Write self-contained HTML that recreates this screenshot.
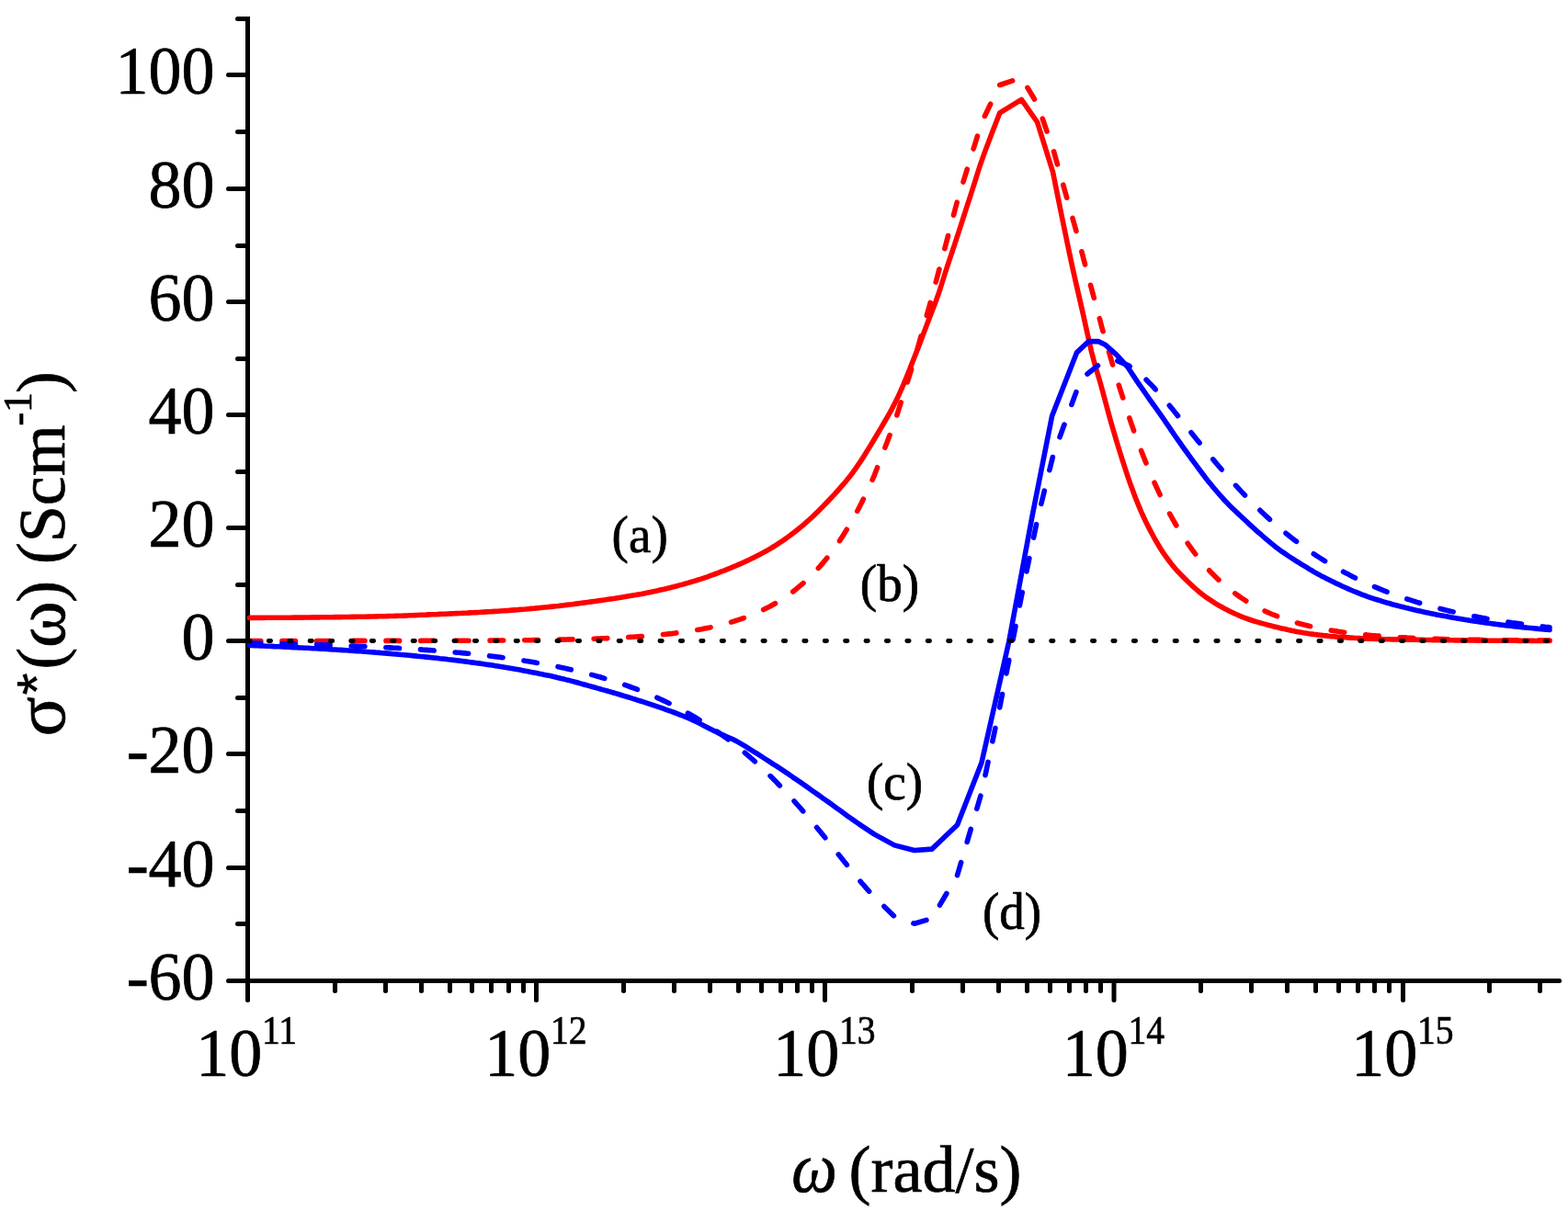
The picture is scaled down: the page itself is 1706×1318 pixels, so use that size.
<!DOCTYPE html>
<html lang="en">
<head>
<meta charset="utf-8">
<title>Complex conductivity versus angular frequency</title>
<style>
html,body{margin:0;padding:0;background:#fff;}
body{width:1706px;height:1318px;overflow:hidden;}
svg{display:block;}
</style>
</head>
<body>
<svg width="1706" height="1318" viewBox="0 0 1706 1318">
<rect width="1706" height="1318" fill="#fff"/>
<g stroke="#000" stroke-width="5" stroke-linecap="round" fill="none">
<path stroke-linejoin="miter" d="M258.5 20.5H269.5V1067.5H1696.6"/>
<path d="M248.5 1067.5H269.5"/>
<path d="M248.5 944.5H269.5"/>
<path d="M248.5 820.5H269.5"/>
<path d="M248.5 697.5H269.5"/>
<path d="M248.5 574.5H269.5"/>
<path d="M248.5 451.5H269.5"/>
<path d="M248.5 328.5H269.5"/>
<path d="M248.5 205.5H269.5"/>
<path d="M248.5 81.5H269.5"/>
<path d="M258.5 1005.5H269.5"/>
<path d="M258.5 882.5H269.5"/>
<path d="M258.5 759.5H269.5"/>
<path d="M258.5 636.5H269.5"/>
<path d="M258.5 513.5H269.5"/>
<path d="M258.5 390.5H269.5"/>
<path d="M258.5 267.5H269.5"/>
<path d="M258.5 143.5H269.5"/>
<path d="M269.5 1067.5V1088.5"/>
<path d="M364.5 1067.5V1078.5"/>
<path d="M419.5 1067.5V1078.5"/>
<path d="M458.5 1067.5V1078.5"/>
<path d="M489.5 1067.5V1078.5"/>
<path d="M513.5 1067.5V1078.5"/>
<path d="M534.5 1067.5V1078.5"/>
<path d="M553.5 1067.5V1078.5"/>
<path d="M569.5 1067.5V1078.5"/>
<path d="M583.5 1067.5V1088.5"/>
<path d="M678.5 1067.5V1078.5"/>
<path d="M733.5 1067.5V1078.5"/>
<path d="M772.5 1067.5V1078.5"/>
<path d="M803.5 1067.5V1078.5"/>
<path d="M828.5 1067.5V1078.5"/>
<path d="M849.5 1067.5V1078.5"/>
<path d="M867.5 1067.5V1078.5"/>
<path d="M883.5 1067.5V1078.5"/>
<path d="M897.5 1067.5V1088.5"/>
<path d="M992.5 1067.5V1078.5"/>
<path d="M1047.5 1067.5V1078.5"/>
<path d="M1086.5 1067.5V1078.5"/>
<path d="M1117.5 1067.5V1078.5"/>
<path d="M1142.5 1067.5V1078.5"/>
<path d="M1163.5 1067.5V1078.5"/>
<path d="M1181.5 1067.5V1078.5"/>
<path d="M1197.5 1067.5V1078.5"/>
<path d="M1212.0 1067.5V1088.5"/>
<path d="M1306.5 1067.5V1078.5"/>
<path d="M1361.5 1067.5V1078.5"/>
<path d="M1400.5 1067.5V1078.5"/>
<path d="M1431.5 1067.5V1078.5"/>
<path d="M1456.5 1067.5V1078.5"/>
<path d="M1477.5 1067.5V1078.5"/>
<path d="M1495.5 1067.5V1078.5"/>
<path d="M1511.5 1067.5V1078.5"/>
<path d="M1526.5 1067.5V1088.5"/>
<path d="M1620.5 1067.5V1078.5"/>
<path d="M1675.5 1067.5V1078.5"/>
</g>
<g font-family="Liberation Serif, 'Times New Roman', serif" fill="#000" stroke="#000" stroke-width="0.7" stroke-linejoin="round">
<text transform="translate(233.6 1088.1) scale(0.9782608695652175 1)" font-size="73.6" text-anchor="end" >-60</text>
<text transform="translate(233.6 965.1) scale(0.9782608695652175 1)" font-size="73.6" text-anchor="end" >-40</text>
<text transform="translate(233.6 841.1) scale(0.9782608695652175 1)" font-size="73.6" text-anchor="end" >-20</text>
<text transform="translate(233.6 718.1) scale(0.9782608695652175 1)" font-size="73.6" text-anchor="end" >0</text>
<text transform="translate(233.6 595.1) scale(0.9782608695652175 1)" font-size="73.6" text-anchor="end" >20</text>
<text transform="translate(233.6 472.1) scale(0.9782608695652175 1)" font-size="73.6" text-anchor="end" >40</text>
<text transform="translate(233.6 349.1) scale(0.9782608695652175 1)" font-size="73.6" text-anchor="end" >60</text>
<text transform="translate(233.6 226.1) scale(0.9782608695652175 1)" font-size="73.6" text-anchor="end" >80</text>
<text transform="translate(233.6 102.1) scale(0.9782608695652175 1)" font-size="73.6" text-anchor="end" >100</text>
<text transform="translate(213.2 1171.2) scale(0.9782608695652175 1)" font-size="73.6" text-anchor="start" >10</text>
<text transform="translate(284.95 1136.2) scale(0.9 1)" font-size="44" text-anchor="start" >11</text>
<text transform="translate(527.2 1171.2) scale(0.9782608695652175 1)" font-size="73.6" text-anchor="start" >10</text>
<text transform="translate(598.95 1136.2) scale(0.9 1)" font-size="44" text-anchor="start" >12</text>
<text transform="translate(841.2 1171.2) scale(0.9782608695652175 1)" font-size="73.6" text-anchor="start" >10</text>
<text transform="translate(912.95 1136.2) scale(0.9 1)" font-size="44" text-anchor="start" >13</text>
<text transform="translate(1155.7 1171.2) scale(0.9782608695652175 1)" font-size="73.6" text-anchor="start" >10</text>
<text transform="translate(1227.45 1136.2) scale(0.9 1)" font-size="44" text-anchor="start" >14</text>
<text transform="translate(1470.2 1171.2) scale(0.9782608695652175 1)" font-size="73.6" text-anchor="start" >10</text>
<text transform="translate(1541.95 1136.2) scale(0.9 1)" font-size="44" text-anchor="start" >15</text>
<text transform="translate(861.2 1297.4) scale(0.9 1)" font-size="78" text-anchor="start" font-style="italic" >ω</text>
<text transform="translate(923.6 1297.4)" font-size="72" text-anchor="start" >(rad/s)</text>
<text transform="translate(70.2 801.4) rotate(-90) scale(1.03 1)" font-size="78" text-anchor="start" >σ</text>
<text transform="translate(60.9 756.6) rotate(-90)" font-family="Liberation Sans, Arial, sans-serif" font-size="62" stroke-width="0.4">*</text>
<text transform="translate(67.7 728.6) rotate(-90)" font-size="71" text-anchor="start" >(</text>
<text transform="translate(69.8 704.9) rotate(-90) scale(0.985 1)" font-size="78" text-anchor="start" >ω</text>
<text transform="translate(67.7 655.7) rotate(-90)" font-size="71" text-anchor="start" >)</text>
<text transform="translate(67.7 614.0) rotate(-90)" font-size="71" text-anchor="start" >(</text>
<text transform="translate(69.8 590.3) rotate(-90)" font-size="72" text-anchor="start" >Scm</text>
<text transform="translate(34.3 463.6) rotate(-90)" font-size="44" text-anchor="start" >-1</text>
<text transform="translate(67.7 427.9) rotate(-90)" font-size="71" text-anchor="start" >)</text>
<text transform="translate(665.6 601.2) scale(0.985 1)" font-size="56" text-anchor="start" >(a)</text>
<text transform="translate(935.8 653.8) scale(0.985 1)" font-size="56" text-anchor="start" >(b)</text>
<text transform="translate(942.9 869.8) scale(0.985 1)" font-size="56" text-anchor="start" >(c)</text>
<text transform="translate(1068.9 1010.8) scale(0.985 1)" font-size="56" text-anchor="start" >(d)</text>
</g>
<g fill="none" stroke-width="5.6" stroke-linejoin="round">
<path stroke="#f00" stroke-linecap="round" d="M271.6 672.4 L274.6 672.4 L277.6 672.4 L280.6 672.4 L283.6 672.4 L286.6 672.4 L289.6 672.3 L292.6 672.3 L295.6 672.3 L298.6 672.3 L301.6 672.3 L304.6 672.3 L307.6 672.2 L310.6 672.2 L313.6 672.2 L316.6 672.2 L319.6 672.1 L322.6 672.1 L325.6 672.1 L328.6 672.1 L331.6 672.0 L334.6 672.0 L337.6 672.0 L340.6 671.9 L343.6 671.9 L346.6 671.9 L349.6 671.8 L352.6 671.8 L355.6 671.8 L358.6 671.7 L361.6 671.7 L364.6 671.6 L367.6 671.6 L370.6 671.6 L373.6 671.5 L376.6 671.5 L379.6 671.5 L382.6 671.4 L385.6 671.4 L388.6 671.3 L391.6 671.3 L394.6 671.2 L397.6 671.2 L400.6 671.1 L403.6 671.0 L406.6 671.0 L409.6 670.9 L412.6 670.8 L415.6 670.8 L418.6 670.7 L421.6 670.6 L424.6 670.5 L427.6 670.5 L430.6 670.4 L433.6 670.3 L436.6 670.2 L439.6 670.1 L442.6 670.0 L445.6 669.8 L448.6 669.7 L451.6 669.6 L454.6 669.5 L457.6 669.3 L460.6 669.2 L463.6 669.1 L466.6 668.9 L469.6 668.8 L472.6 668.7 L475.6 668.6 L478.6 668.4 L481.6 668.3 L484.6 668.2 L487.6 668.0 L490.6 667.9 L493.6 667.8 L496.6 667.6 L499.6 667.5 L502.6 667.4 L505.6 667.2 L508.6 667.1 L511.6 666.9 L514.6 666.8 L517.6 666.6 L520.6 666.5 L523.6 666.3 L526.6 666.1 L529.6 665.9 L532.6 665.8 L535.6 665.6 L538.6 665.4 L541.6 665.2 L544.6 665.0 L547.6 664.8 L550.6 664.6 L553.6 664.4 L556.6 664.1 L559.6 663.9 L562.6 663.7 L565.6 663.4 L568.6 663.2 L571.6 663.0 L574.6 662.7 L577.6 662.4 L580.6 662.2 L583.6 661.9 L586.6 661.6 L589.6 661.3 L592.6 661.0 L595.6 660.7 L598.6 660.4 L601.6 660.1 L604.6 659.8 L607.6 659.5 L610.6 659.1 L613.6 658.8 L616.6 658.4 L619.6 658.0 L622.6 657.7 L625.6 657.3 L628.6 656.9 L631.6 656.5 L634.6 656.1 L637.6 655.7 L640.6 655.3 L643.6 654.9 L646.6 654.5 L649.6 654.1 L652.6 653.6 L655.6 653.2 L658.6 652.8 L661.6 652.3 L664.6 651.9 L667.6 651.5 L670.6 651.0 L673.6 650.5 L676.6 650.1 L679.6 649.6 L682.6 649.1 L685.6 648.6 L688.6 648.1 L691.6 647.6 L694.6 647.0 L697.6 646.5 L700.6 645.9 L703.6 645.3 L706.6 644.7 L709.6 644.1 L712.6 643.4 L715.6 642.8 L718.6 642.1 L721.6 641.4 L724.6 640.7 L727.6 640.0 L730.6 639.2 L733.6 638.5 L736.6 637.7 L739.6 636.9 L742.6 636.1 L745.6 635.2 L748.6 634.4 L751.6 633.5 L754.6 632.6 L757.6 631.7 L760.6 630.8 L763.6 629.8 L766.6 628.8 L769.6 627.8 L772.6 626.7 L775.6 625.6 L778.6 624.5 L781.6 623.4 L784.6 622.2 L787.6 621.1 L790.6 619.9 L793.6 618.7 L796.6 617.4 L799.6 616.2 L802.6 614.9 L805.6 613.6 L808.6 612.3 L811.6 610.9 L814.6 609.5 L817.6 608.0 L820.6 606.6 L823.6 605.0 L826.6 603.5 L829.6 601.9 L832.6 600.2 L835.6 598.6 L838.6 596.8 L841.6 595.0 L844.6 593.2 L847.6 591.2 L850.6 589.2 L853.6 587.1 L856.6 585.0 L859.6 582.8 L862.6 580.5 L865.6 578.2 L868.6 575.8 L871.6 573.3 L874.6 570.8 L877.6 568.2 L880.6 565.5 L883.6 562.7 L886.6 559.9 L889.6 557.0 L892.6 554.0 L895.6 550.9 L898.6 547.8 L901.6 544.7 L904.6 541.5 L907.6 538.3 L910.6 535.0 L913.6 531.6 L916.6 528.2 L919.6 524.7 L922.6 521.0 L925.6 517.2 L928.6 513.2 L931.6 509.0 L934.6 504.6 L937.6 500.1 L940.6 495.4 L943.6 490.6 L946.6 485.7 L949.6 480.7 L952.6 475.7 L955.6 470.7 L958.6 465.6 L961.6 460.5 L964.6 455.4 L967.6 450.1 L970.6 444.6 L973.6 438.8 L976.6 432.8 L979.6 426.2 L982.6 419.3 L985.6 412.1 L988.6 404.7 L991.6 397.1 L994.6 389.5 L997.6 381.9 L1000.6 374.2 L1003.6 366.3 L1006.6 358.3 L1009.6 350.3 L1012.6 342.4 L1015.6 334.7 L1018.6 326.9 L1021.6 318.3 L1024.6 309.0 L1027.6 299.5 L1030.6 290.2 L1033.6 281.2 L1036.6 272.2 L1039.6 263.2 L1042.6 254.0 L1045.6 244.7 L1048.6 235.3 L1051.6 226.0 L1054.6 216.8 L1057.6 207.5 L1060.6 198.1 L1063.6 188.5 L1066.6 179.2 L1069.6 170.6 L1072.6 162.4 L1075.6 154.4 L1078.6 146.6 L1081.6 138.8 L1084.6 131.0 L1087.7 122.9 L1111.4 108.4 L1128.6 133.0 L1145.6 187.5 L1148.6 202.5 L1151.6 217.4 L1154.6 232.2 L1157.6 246.9 L1160.6 261.5 L1163.6 275.9 L1166.6 289.9 L1169.6 303.4 L1172.6 316.5 L1175.6 329.5 L1178.6 342.6 L1181.6 356.3 L1184.6 370.0 L1187.6 383.0 L1190.6 394.4 L1193.6 404.7 L1196.6 414.7 L1199.6 425.4 L1202.6 436.7 L1205.6 448.0 L1208.6 458.9 L1211.6 469.3 L1214.6 479.4 L1217.6 489.2 L1220.6 498.8 L1223.6 508.2 L1226.6 517.4 L1229.6 526.1 L1232.6 534.3 L1235.6 542.2 L1238.6 549.6 L1241.6 556.8 L1244.6 563.5 L1247.6 569.8 L1250.6 575.6 L1253.6 581.3 L1256.6 586.8 L1259.6 592.0 L1262.6 597.0 L1265.6 601.6 L1268.6 605.9 L1271.6 610.0 L1274.6 613.9 L1277.6 617.6 L1280.6 621.0 L1283.6 624.2 L1286.6 627.3 L1289.6 630.3 L1292.6 633.2 L1295.6 636.1 L1298.6 638.9 L1301.6 641.5 L1304.6 644.1 L1307.6 646.5 L1310.6 648.7 L1313.6 650.9 L1316.6 652.9 L1319.6 654.9 L1322.6 656.8 L1325.6 658.6 L1328.6 660.3 L1331.6 662.0 L1334.6 663.5 L1337.6 665.1 L1340.6 666.5 L1343.6 668.0 L1346.6 669.3 L1349.6 670.6 L1352.6 671.8 L1355.6 672.9 L1358.6 674.0 L1361.6 675.0 L1364.6 676.0 L1367.6 676.9 L1370.6 677.8 L1373.6 678.6 L1376.6 679.4 L1379.6 680.2 L1382.6 680.9 L1385.6 681.7 L1388.6 682.4 L1391.6 683.2 L1394.6 683.9 L1397.6 684.6 L1400.6 685.3 L1403.6 685.9 L1406.6 686.6 L1409.6 687.2 L1412.6 687.8 L1415.6 688.3 L1418.6 688.8 L1421.6 689.2 L1424.6 689.7 L1427.6 690.1 L1430.6 690.5 L1433.6 690.9 L1436.6 691.2 L1439.6 691.6 L1442.6 691.9 L1445.6 692.3 L1448.6 692.6 L1451.6 692.8 L1454.6 693.1 L1457.6 693.3 L1460.6 693.5 L1463.6 693.7 L1466.6 693.9 L1469.6 694.1 L1472.6 694.3 L1475.6 694.5 L1478.6 694.6 L1481.6 694.8 L1484.6 694.9 L1487.6 695.1 L1490.6 695.2 L1493.6 695.3 L1496.6 695.4 L1499.6 695.5 L1502.6 695.6 L1505.6 695.7 L1508.6 695.7 L1511.6 695.8 L1514.6 695.9 L1517.6 695.9 L1520.6 696.0 L1523.6 696.0 L1526.6 696.1 L1529.6 696.1 L1532.6 696.2 L1535.6 696.2 L1538.6 696.3 L1541.6 696.3 L1544.6 696.4 L1547.6 696.4 L1550.6 696.5 L1553.6 696.5 L1556.6 696.5 L1559.6 696.6 L1562.6 696.6 L1565.6 696.7 L1568.6 696.7 L1571.6 696.7 L1574.6 696.8 L1577.6 696.8 L1580.6 696.8 L1583.6 696.9 L1586.6 696.9 L1589.6 696.9 L1592.6 696.9 L1595.6 697.0 L1598.6 697.0 L1601.6 697.0 L1604.6 697.0 L1607.6 697.1 L1610.6 697.1 L1613.6 697.1 L1616.6 697.1 L1619.6 697.2 L1622.6 697.2 L1625.6 697.2 L1628.6 697.2 L1631.6 697.2 L1634.6 697.3 L1637.6 697.3 L1640.6 697.3 L1643.6 697.3 L1646.6 697.3 L1649.6 697.3 L1652.6 697.4 L1655.6 697.4 L1658.6 697.4 L1661.6 697.4 L1664.6 697.4 L1667.6 697.4 L1670.6 697.5 L1673.6 697.5 L1676.6 697.5 L1679.6 697.5 L1682.6 697.5 L1685.6 697.5 L1686.0 697.5"/>
<path stroke="#f00" stroke-dasharray="14.6 23.1" stroke-dashoffset="2.4" stroke-linecap="round" d="M271.6 697.5 L274.6 697.5 L277.6 697.5 L280.6 697.5 L283.6 697.5 L286.6 697.5 L289.6 697.5 L292.6 697.5 L295.6 697.5 L298.6 697.5 L301.6 697.5 L304.6 697.5 L307.6 697.5 L310.6 697.5 L313.6 697.5 L316.6 697.5 L319.6 697.5 L322.6 697.5 L325.6 697.5 L328.6 697.5 L331.6 697.5 L334.6 697.5 L337.6 697.5 L340.6 697.5 L343.6 697.5 L346.6 697.5 L349.6 697.5 L352.6 697.5 L355.6 697.5 L358.6 697.5 L361.6 697.5 L364.6 697.5 L367.6 697.5 L370.6 697.5 L373.6 697.5 L376.6 697.5 L379.6 697.5 L382.6 697.5 L385.6 697.4 L388.6 697.4 L391.6 697.4 L394.6 697.4 L397.6 697.4 L400.6 697.4 L403.6 697.4 L406.6 697.4 L409.6 697.4 L412.6 697.4 L415.6 697.4 L418.6 697.4 L421.6 697.4 L424.6 697.4 L427.6 697.4 L430.6 697.4 L433.6 697.4 L436.6 697.4 L439.6 697.4 L442.6 697.4 L445.6 697.4 L448.6 697.4 L451.6 697.4 L454.6 697.4 L457.6 697.4 L460.6 697.3 L463.6 697.3 L466.6 697.3 L469.6 697.3 L472.6 697.3 L475.6 697.3 L478.6 697.3 L481.6 697.3 L484.6 697.3 L487.6 697.3 L490.6 697.3 L493.6 697.3 L496.6 697.2 L499.6 697.2 L502.6 697.2 L505.6 697.2 L508.6 697.2 L511.6 697.2 L514.6 697.2 L517.6 697.1 L520.6 697.1 L523.6 697.1 L526.6 697.1 L529.6 697.1 L532.6 697.1 L535.6 697.0 L538.6 697.0 L541.6 697.0 L544.6 697.0 L547.6 697.0 L550.6 696.9 L553.6 696.9 L556.6 696.9 L559.6 696.8 L562.6 696.8 L565.6 696.8 L568.6 696.8 L571.6 696.7 L574.6 696.7 L577.6 696.7 L580.6 696.6 L583.6 696.6 L586.6 696.5 L589.6 696.5 L592.6 696.4 L595.6 696.4 L598.6 696.3 L601.6 696.3 L604.6 696.2 L607.6 696.2 L610.6 696.1 L613.6 696.1 L616.6 696.0 L619.6 695.9 L622.6 695.9 L625.6 695.8 L628.6 695.7 L631.6 695.6 L634.6 695.5 L637.6 695.5 L640.6 695.4 L643.6 695.3 L646.6 695.2 L649.6 695.1 L652.6 695.0 L655.6 694.8 L658.6 694.7 L661.6 694.6 L664.6 694.5 L667.6 694.3 L670.6 694.2 L673.6 694.0 L676.6 693.9 L679.6 693.7 L682.6 693.6 L685.6 693.4 L688.6 693.2 L691.6 693.0 L694.6 692.8 L697.6 692.6 L700.6 692.4 L703.6 692.1 L706.6 691.9 L709.6 691.7 L712.6 691.4 L715.6 691.1 L718.6 690.8 L721.6 690.5 L724.6 690.2 L727.6 689.9 L730.6 689.6 L733.6 689.2 L736.6 688.8 L739.6 688.4 L742.6 688.0 L745.6 687.6 L748.6 687.2 L751.6 686.7 L754.6 686.2 L757.6 685.7 L760.6 685.2 L763.6 684.7 L766.6 684.1 L769.6 683.5 L772.6 682.9 L775.6 682.2 L778.6 681.5 L781.6 680.8 L784.6 680.1 L787.6 679.3 L790.6 678.5 L793.6 677.6 L796.6 676.8 L799.6 675.8 L802.6 674.9 L805.6 673.9 L808.6 672.8 L811.6 671.7 L814.6 670.6 L817.6 669.4 L820.6 668.2 L823.6 666.9 L826.6 665.5 L829.6 664.1 L832.6 662.6 L835.6 661.1 L838.6 659.5 L841.6 657.8 L844.6 656.1 L847.6 654.3 L850.6 652.4 L853.6 650.4 L856.6 648.4 L859.6 646.2 L862.6 644.0 L865.6 641.7 L868.6 639.2 L871.6 636.7 L874.6 634.1 L877.6 631.3 L880.6 628.5 L883.6 625.5 L886.6 622.4 L889.6 619.2 L892.6 615.9 L895.6 612.4 L898.6 608.8 L901.6 605.0 L904.6 601.1 L907.6 597.0 L910.6 592.8 L913.6 588.4 L916.6 583.9 L919.6 579.1 L922.6 574.2 L925.6 569.1 L928.6 563.8 L931.6 558.4 L934.6 552.7 L937.6 546.8 L940.6 540.7 L943.6 534.4 L946.6 527.9 L951.6 516.6 L973.1 460.5 L994.7 392.3 L1013.9 323.3 L1041.6 218.7 L1068.0 133.4 L1087.7 92.5 L1111.4 84.5 L1128.8 113.5 L1146.0 163.0 L1171.6 253.8 L1182.5 295.3 L1200.0 360.4 L1214.6 410.8 L1228.0 452.6 L1231.0 461.4 L1234.0 469.9 L1237.0 478.2 L1240.0 486.2 L1243.0 494.0 L1246.0 501.6 L1249.0 509.0 L1252.0 516.1 L1255.0 523.0 L1258.0 529.7 L1261.0 536.1 L1264.0 542.4 L1267.0 548.4 L1270.0 554.2 L1273.0 559.8 L1276.0 565.2 L1279.0 570.5 L1282.0 575.5 L1285.0 580.4 L1288.0 585.1 L1291.0 589.6 L1294.0 593.9 L1297.0 598.1 L1300.0 602.1 L1303.0 606.0 L1306.0 609.7 L1309.0 613.3 L1312.0 616.8 L1315.0 620.1 L1318.0 623.3 L1321.0 626.3 L1324.0 629.3 L1327.0 632.1 L1330.0 634.8 L1333.0 637.4 L1336.0 639.9 L1339.0 642.3 L1342.0 644.6 L1345.0 646.8 L1348.0 648.9 L1351.0 651.0 L1354.0 652.9 L1357.0 654.8 L1360.0 656.6 L1363.0 658.3 L1366.0 659.9 L1369.0 661.5 L1372.0 663.0 L1375.0 664.5 L1378.0 665.9 L1381.0 667.2 L1384.0 668.5 L1387.0 669.7 L1390.0 670.9 L1393.0 672.0 L1396.0 673.1 L1399.0 674.2 L1402.0 675.1 L1405.0 676.1 L1408.0 677.0 L1411.0 677.9 L1414.0 678.7 L1417.0 679.5 L1420.0 680.3 L1423.0 681.0 L1426.0 681.7 L1429.0 682.4 L1432.0 683.0 L1435.0 683.6 L1438.0 684.2 L1441.0 684.8 L1444.0 685.3 L1447.0 685.9 L1450.0 686.4 L1453.0 686.8 L1456.0 687.3 L1459.0 687.7 L1462.0 688.2 L1465.0 688.6 L1468.0 688.9 L1471.0 689.3 L1474.0 689.7 L1477.0 690.0 L1480.0 690.3 L1483.0 690.6 L1486.0 690.9 L1489.0 691.2 L1492.0 691.5 L1495.0 691.7 L1498.0 692.0 L1501.0 692.2 L1504.0 692.4 L1507.0 692.7 L1510.0 692.9 L1513.0 693.1 L1516.0 693.3 L1519.0 693.4 L1522.0 693.6 L1525.0 693.8 L1528.0 693.9 L1531.0 694.1 L1534.0 694.2 L1537.0 694.4 L1540.0 694.5 L1543.0 694.6 L1546.0 694.8 L1549.0 694.9 L1552.0 695.0 L1555.0 695.1 L1558.0 695.2 L1561.0 695.3 L1564.0 695.4 L1567.0 695.5 L1570.0 695.6 L1573.0 695.7 L1576.0 695.7 L1579.0 695.8 L1582.0 695.9 L1585.0 696.0 L1588.0 696.0 L1591.0 696.1 L1594.0 696.1 L1597.0 696.2 L1600.0 696.3 L1603.0 696.3 L1606.0 696.4 L1609.0 696.4 L1612.0 696.5 L1615.0 696.5 L1618.0 696.5 L1621.0 696.6 L1624.0 696.6 L1627.0 696.7 L1630.0 696.7 L1633.0 696.7 L1636.0 696.8 L1639.0 696.8 L1642.0 696.8 L1645.0 696.9 L1648.0 696.9 L1651.0 696.9 L1654.0 696.9 L1657.0 697.0 L1660.0 697.0 L1663.0 697.0 L1666.0 697.0 L1669.0 697.0 L1672.0 697.1 L1675.0 697.1 L1678.0 697.1 L1681.0 697.1 L1684.0 697.1 L1686.0 697.1"/>
<path stroke="#00f" stroke-linecap="round" d="M271.6 702.4 L274.6 702.5 L277.6 702.6 L280.6 702.8 L283.6 702.9 L286.6 703.0 L289.6 703.2 L292.6 703.3 L295.6 703.4 L298.6 703.6 L301.6 703.7 L304.6 703.8 L307.6 704.0 L310.6 704.1 L313.6 704.3 L316.6 704.4 L319.6 704.6 L322.6 704.7 L325.6 704.9 L328.6 705.0 L331.6 705.2 L334.6 705.3 L337.6 705.5 L340.6 705.7 L343.6 705.8 L346.6 706.0 L349.6 706.2 L352.6 706.3 L355.6 706.5 L358.6 706.7 L361.6 706.9 L364.6 707.0 L367.6 707.2 L370.6 707.4 L373.6 707.6 L376.6 707.8 L379.6 708.0 L382.6 708.2 L385.6 708.4 L388.6 708.6 L391.6 708.8 L394.6 709.0 L397.6 709.3 L400.6 709.5 L403.6 709.7 L406.6 709.9 L409.6 710.2 L412.6 710.4 L415.6 710.7 L418.6 710.9 L421.6 711.1 L424.6 711.4 L427.6 711.7 L430.6 711.9 L433.6 712.2 L436.6 712.5 L439.6 712.7 L442.6 713.0 L445.6 713.3 L448.6 713.6 L451.6 713.9 L454.6 714.2 L457.6 714.5 L460.6 714.8 L463.6 715.1 L466.6 715.4 L469.6 715.7 L472.6 716.0 L475.6 716.3 L478.6 716.7 L481.6 717.0 L484.6 717.3 L487.6 717.7 L490.6 718.0 L493.6 718.4 L496.6 718.7 L499.6 719.1 L502.6 719.5 L505.6 719.9 L508.6 720.3 L511.6 720.7 L514.6 721.1 L517.6 721.5 L520.6 721.9 L523.6 722.3 L526.6 722.8 L529.6 723.2 L532.6 723.6 L535.6 724.1 L538.6 724.6 L541.6 725.0 L544.6 725.5 L547.6 726.0 L550.6 726.5 L553.6 727.0 L556.6 727.5 L559.6 728.1 L562.6 728.6 L565.6 729.1 L568.6 729.7 L571.6 730.3 L574.6 730.8 L577.6 731.4 L580.6 732.0 L583.6 732.6 L586.6 733.2 L589.6 733.8 L592.6 734.4 L595.6 735.0 L598.6 735.6 L601.6 736.3 L604.6 737.0 L607.6 737.7 L610.6 738.4 L613.6 739.1 L616.6 739.9 L619.6 740.6 L622.6 741.4 L625.6 742.2 L628.6 743.0 L631.6 743.9 L634.6 744.7 L637.6 745.5 L640.6 746.4 L643.6 747.2 L646.6 748.0 L649.6 748.9 L652.6 749.7 L655.6 750.6 L658.6 751.4 L661.6 752.3 L664.6 753.1 L667.6 754.0 L670.6 754.9 L673.6 755.8 L676.6 756.7 L679.6 757.6 L682.6 758.5 L685.6 759.4 L688.6 760.4 L691.6 761.3 L694.6 762.3 L697.6 763.2 L700.6 764.2 L703.6 765.2 L706.6 766.2 L709.6 767.2 L712.6 768.2 L715.6 769.2 L718.6 770.2 L721.6 771.2 L724.6 772.3 L727.6 773.3 L730.6 774.4 L733.6 775.5 L736.6 776.6 L739.6 777.8 L742.6 779.0 L745.6 780.2 L748.6 781.4 L751.6 782.7 L754.6 784.1 L757.6 785.5 L760.6 787.0 L763.6 788.6 L766.6 790.2 L769.6 791.7 L772.6 793.3 L775.6 794.8 L778.6 796.3 L781.6 797.7 L784.6 799.1 L787.6 800.4 L790.6 801.7 L793.6 803.0 L796.6 804.3 L799.6 805.8 L802.6 807.4 L805.6 809.1 L808.6 810.9 L811.6 812.7 L814.6 814.6 L817.6 816.5 L820.6 818.4 L823.6 820.2 L826.6 822.1 L829.6 824.0 L832.6 826.0 L835.6 827.9 L838.6 829.8 L841.6 831.8 L844.6 833.7 L847.6 835.7 L850.6 837.7 L853.6 839.7 L856.6 841.7 L859.6 843.7 L862.6 845.8 L865.6 847.8 L868.6 849.9 L871.6 851.9 L874.6 854.0 L877.6 856.1 L880.6 858.2 L883.6 860.4 L886.6 862.5 L889.6 864.6 L892.6 866.7 L895.6 868.9 L898.6 871.0 L901.6 873.1 L904.6 875.3 L907.6 877.5 L910.6 879.7 L913.6 881.8 L916.6 884.0 L919.6 886.2 L922.6 888.4 L925.6 890.5 L928.6 892.6 L931.6 894.7 L934.6 896.8 L937.6 898.8 L940.6 900.8 L943.6 902.8 L946.6 904.8 L949.6 906.8 L951.6 908.1 L973.1 919.9 L994.7 925.5 L1013.9 924.1 L1041.6 897.8 L1068.0 830.0 L1097.9 697.5 L1123.0 562.0 L1144.6 452.8 L1171.6 383.6 L1184.5 371.5 L1195.0 371.6 L1203.0 375.6 L1214.6 385.8 L1226.9 399.4 L1229.9 404.0 L1232.9 408.6 L1235.9 413.1 L1238.9 417.6 L1241.9 421.9 L1244.9 426.2 L1247.9 430.5 L1250.9 434.8 L1253.9 439.0 L1256.9 443.2 L1259.9 447.4 L1262.9 451.6 L1265.9 455.9 L1268.9 460.3 L1271.9 464.7 L1274.9 469.1 L1277.9 473.5 L1280.9 477.8 L1283.9 482.0 L1286.9 486.3 L1289.9 490.5 L1292.9 494.6 L1295.9 498.8 L1298.9 502.9 L1301.9 506.9 L1304.9 511.0 L1307.9 515.0 L1310.9 519.0 L1313.9 522.9 L1316.9 526.6 L1319.9 530.3 L1322.9 533.8 L1325.9 537.3 L1328.9 540.7 L1331.9 544.0 L1334.9 547.2 L1337.9 550.3 L1340.9 553.2 L1343.9 556.1 L1346.9 558.9 L1349.9 561.7 L1352.9 564.5 L1355.9 567.3 L1358.9 570.1 L1361.9 572.9 L1364.9 575.6 L1367.9 578.3 L1370.9 580.9 L1373.9 583.5 L1376.9 586.1 L1379.9 588.7 L1382.9 591.2 L1385.9 593.6 L1388.9 596.0 L1391.9 598.2 L1394.9 600.4 L1397.9 602.4 L1400.9 604.5 L1403.9 606.5 L1406.9 608.4 L1409.9 610.3 L1412.9 612.2 L1415.9 614.1 L1418.9 615.9 L1421.9 617.7 L1424.9 619.6 L1427.9 621.3 L1430.9 623.1 L1433.9 624.8 L1436.9 626.4 L1439.9 627.9 L1442.9 629.5 L1445.9 631.0 L1448.9 632.5 L1451.9 633.9 L1454.9 635.4 L1457.9 636.8 L1460.9 638.2 L1463.9 639.5 L1466.9 640.9 L1469.9 642.2 L1472.9 643.5 L1475.9 644.7 L1478.9 645.9 L1481.9 647.1 L1484.9 648.2 L1487.9 649.3 L1490.9 650.3 L1493.9 651.3 L1496.9 652.3 L1499.9 653.2 L1502.9 654.2 L1505.9 655.1 L1508.9 656.0 L1511.9 656.8 L1514.9 657.7 L1517.9 658.5 L1520.9 659.3 L1523.9 660.1 L1526.9 660.8 L1529.9 661.6 L1532.9 662.3 L1535.9 663.0 L1538.9 663.7 L1541.9 664.4 L1544.9 665.1 L1547.9 665.8 L1550.9 666.4 L1553.9 667.1 L1556.9 667.7 L1559.9 668.3 L1562.9 668.9 L1565.9 669.5 L1568.9 670.0 L1571.9 670.6 L1574.9 671.1 L1577.9 671.7 L1580.9 672.2 L1583.9 672.7 L1586.9 673.2 L1589.9 673.7 L1592.9 674.2 L1595.9 674.7 L1598.9 675.2 L1601.9 675.7 L1604.9 676.1 L1607.9 676.6 L1610.9 677.0 L1613.9 677.5 L1616.9 677.9 L1619.9 678.3 L1622.9 678.7 L1625.9 679.1 L1628.9 679.5 L1631.9 679.9 L1634.9 680.2 L1637.9 680.6 L1640.9 680.9 L1643.9 681.3 L1646.9 681.6 L1649.9 682.0 L1652.9 682.3 L1655.9 682.6 L1658.9 682.9 L1661.9 683.2 L1664.9 683.5 L1667.9 683.8 L1670.9 684.1 L1673.9 684.4 L1676.9 684.6 L1679.9 684.9 L1682.9 685.2 L1685.9 685.4 L1686.0 685.4"/>
<path stroke="#00f" stroke-dasharray="14.6 23.1" stroke-dashoffset="2.4" stroke-linecap="round" d="M271.6 699.9 L274.6 700.0 L277.6 700.0 L280.6 700.1 L283.6 700.1 L286.6 700.2 L289.6 700.3 L292.6 700.3 L295.6 700.4 L298.6 700.4 L301.6 700.5 L304.6 700.6 L307.6 700.6 L310.6 700.7 L313.6 700.8 L316.6 700.9 L319.6 700.9 L322.6 701.0 L325.6 701.1 L328.6 701.2 L331.6 701.3 L334.6 701.3 L337.6 701.4 L340.6 701.5 L343.6 701.6 L346.6 701.7 L349.6 701.8 L352.6 701.9 L355.6 702.0 L358.6 702.1 L361.6 702.2 L364.6 702.3 L367.6 702.4 L370.6 702.5 L373.6 702.6 L376.6 702.7 L379.6 702.8 L382.6 703.0 L385.6 703.1 L388.6 703.2 L391.6 703.3 L394.6 703.5 L397.6 703.6 L400.6 703.7 L403.6 703.9 L406.6 704.0 L409.6 704.1 L412.6 704.3 L415.6 704.4 L418.6 704.6 L421.6 704.8 L424.6 704.9 L427.6 705.1 L430.6 705.2 L433.6 705.4 L436.6 705.6 L439.6 705.8 L442.6 706.0 L445.6 706.1 L448.6 706.3 L451.6 706.5 L454.6 706.7 L457.6 706.9 L460.6 707.2 L463.6 707.4 L466.6 707.6 L469.6 707.8 L472.6 708.0 L475.6 708.3 L478.6 708.5 L481.6 708.8 L484.6 709.0 L487.6 709.3 L490.6 709.5 L493.6 709.8 L496.6 710.1 L499.6 710.3 L502.6 710.6 L505.6 710.9 L508.6 711.2 L511.6 711.5 L514.6 711.8 L517.6 712.2 L520.6 712.5 L523.6 712.8 L526.6 713.2 L529.6 713.5 L532.6 713.9 L535.6 714.2 L538.6 714.6 L541.6 715.0 L544.6 715.4 L547.6 715.8 L550.6 716.2 L553.6 716.6 L556.6 717.0 L559.6 717.4 L562.6 717.9 L565.6 718.3 L568.6 718.8 L571.6 719.3 L574.6 719.7 L577.6 720.2 L580.6 720.7 L583.6 721.3 L586.6 721.8 L589.6 722.3 L592.6 722.9 L595.6 723.4 L598.6 724.0 L601.6 724.6 L604.6 725.2 L607.6 725.8 L610.6 726.4 L613.6 727.1 L616.6 727.7 L619.6 728.4 L622.6 729.1 L625.6 729.8 L628.6 730.5 L631.6 731.2 L634.6 732.0 L637.6 732.7 L640.6 733.5 L643.6 734.3 L646.6 735.1 L649.6 736.0 L652.6 736.8 L655.6 737.7 L658.6 738.6 L661.6 739.5 L664.6 740.4 L667.6 741.4 L670.6 742.3 L673.6 743.3 L676.6 744.3 L679.6 745.3 L682.6 746.4 L685.6 747.5 L688.6 748.6 L691.6 749.7 L694.6 750.9 L697.6 752.0 L700.6 753.2 L703.6 754.5 L706.6 755.7 L709.6 757.0 L712.6 758.3 L715.6 759.6 L718.6 761.0 L721.6 762.4 L724.6 763.8 L727.6 765.2 L730.6 766.7 L733.6 768.2 L736.6 769.8 L739.6 771.3 L742.6 772.9 L745.6 774.6 L748.6 776.3 L751.6 778.0 L754.6 779.7 L757.6 781.5 L760.6 783.3 L763.6 785.2 L766.6 787.1 L769.6 789.0 L772.6 791.0 L775.6 793.0 L778.6 795.0 L781.6 797.1 L784.6 799.2 L787.6 801.4 L790.6 803.6 L793.6 805.9 L796.6 808.2 L799.6 810.5 L802.6 812.9 L805.6 815.3 L808.6 817.8 L811.6 820.3 L814.6 822.9 L817.6 825.5 L820.6 828.1 L823.6 830.9 L826.6 833.6 L829.6 836.4 L832.6 839.2 L835.6 842.1 L838.6 845.1 L841.6 848.1 L844.6 851.1 L847.6 854.2 L850.6 857.3 L853.6 860.5 L856.6 863.7 L859.6 867.0 L862.6 870.3 L865.6 873.6 L868.6 877.0 L871.6 880.4 L874.6 883.9 L877.6 887.4 L880.6 890.9 L883.6 894.5 L886.6 898.1 L889.6 901.8 L892.6 905.4 L895.6 909.1 L898.6 912.8 L901.6 916.6 L904.6 920.3 L907.6 924.1 L910.6 927.8 L913.6 931.6 L916.6 935.3 L919.6 939.1 L922.6 942.8 L925.6 946.5 L928.6 950.2 L931.6 953.8 L934.6 957.4 L937.6 961.0 L940.6 964.4 L943.6 967.9 L946.6 971.2 L951.6 976.6 L973.1 997.3 L994.7 1005.2 L1013.9 999.6 L1041.6 952.5 L1068.0 862.5 L1087.7 769.9 L1111.4 648.7 L1128.8 564.7 L1146.0 494.9 L1171.6 424.8 L1182.5 407.5 L1200.0 393.5 L1214.6 392.4 L1228.0 397.9 L1231.0 399.9 L1234.0 402.0 L1237.0 404.3 L1240.0 406.8 L1243.0 409.4 L1246.0 412.2 L1249.0 415.2 L1252.0 418.2 L1255.0 421.4 L1258.0 424.7 L1261.0 428.0 L1264.0 431.5 L1267.0 435.0 L1270.0 438.5 L1273.0 442.1 L1276.0 445.8 L1279.0 449.5 L1282.0 453.2 L1285.0 456.9 L1288.0 460.7 L1291.0 464.4 L1294.0 468.2 L1297.0 471.9 L1300.0 475.7 L1303.0 479.4 L1306.0 483.1 L1309.0 486.9 L1312.0 490.5 L1315.0 494.2 L1318.0 497.8 L1321.0 501.4 L1324.0 505.0 L1327.0 508.5 L1330.0 512.0 L1333.0 515.5 L1336.0 518.9 L1339.0 522.3 L1342.0 525.6 L1345.0 528.9 L1348.0 532.2 L1351.0 535.4 L1354.0 538.5 L1357.0 541.6 L1360.0 544.7 L1363.0 547.7 L1366.0 550.7 L1369.0 553.6 L1372.0 556.5 L1375.0 559.3 L1378.0 562.1 L1381.0 564.9 L1384.0 567.6 L1387.0 570.2 L1390.0 572.8 L1393.0 575.4 L1396.0 577.9 L1399.0 580.3 L1402.0 582.7 L1405.0 585.1 L1408.0 587.5 L1411.0 589.7 L1414.0 592.0 L1417.0 594.2 L1420.0 596.3 L1423.0 598.5 L1426.0 600.5 L1429.0 602.6 L1432.0 604.6 L1435.0 606.5 L1438.0 608.4 L1441.0 610.3 L1444.0 612.2 L1447.0 614.0 L1450.0 615.8 L1453.0 617.5 L1456.0 619.2 L1459.0 620.9 L1462.0 622.5 L1465.0 624.1 L1468.0 625.6 L1471.0 627.2 L1474.0 628.7 L1477.0 630.2 L1480.0 631.6 L1483.0 633.0 L1486.0 634.4 L1489.0 635.7 L1492.0 637.1 L1495.0 638.4 L1498.0 639.6 L1501.0 640.9 L1504.0 642.1 L1507.0 643.3 L1510.0 644.5 L1513.0 645.6 L1516.0 646.7 L1519.0 647.8 L1522.0 648.9 L1525.0 649.9 L1528.0 651.0 L1531.0 652.0 L1534.0 652.9 L1537.0 653.9 L1540.0 654.8 L1543.0 655.8 L1546.0 656.7 L1549.0 657.5 L1552.0 658.4 L1555.0 659.3 L1558.0 660.1 L1561.0 660.9 L1564.0 661.7 L1567.0 662.5 L1570.0 663.2 L1573.0 664.0 L1576.0 664.7 L1579.0 665.4 L1582.0 666.1 L1585.0 666.8 L1588.0 667.4 L1591.0 668.1 L1594.0 668.7 L1597.0 669.4 L1600.0 670.0 L1603.0 670.6 L1606.0 671.1 L1609.0 671.7 L1612.0 672.3 L1615.0 672.8 L1618.0 673.4 L1621.0 673.9 L1624.0 674.4 L1627.0 674.9 L1630.0 675.4 L1633.0 675.9 L1636.0 676.3 L1639.0 676.8 L1642.0 677.2 L1645.0 677.7 L1648.0 678.1 L1651.0 678.5 L1654.0 678.9 L1657.0 679.4 L1660.0 679.7 L1663.0 680.1 L1666.0 680.5 L1669.0 680.9 L1672.0 681.2 L1675.0 681.6 L1678.0 681.9 L1681.0 682.3 L1684.0 682.6 L1686.0 682.8"/>
<path stroke="#000" stroke-width="4.8" stroke-linecap="round" stroke-dasharray="2.4 20.005" d="M269.8 697.5H1686"/>
</g>
</svg>
</body>
</html>
